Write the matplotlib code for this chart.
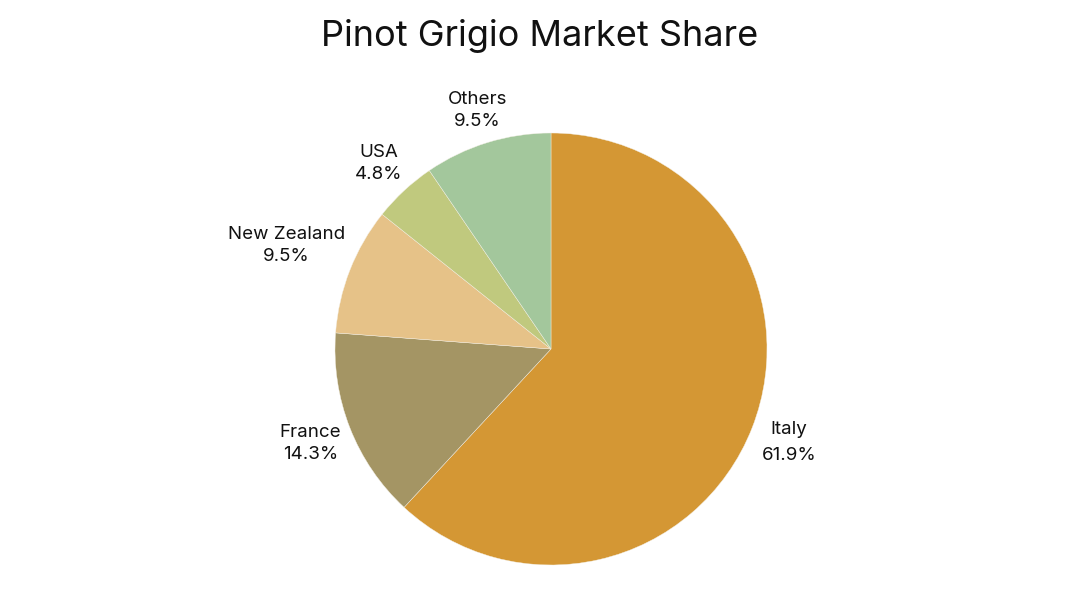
import numpy as np
import matplotlib.pyplot as plt

# Dữ liệu thị phần
countries = ["Italy", "France", "New Zealand", "USA", "Others"]
shares = [13, 3, 2, 1, 2]
colors = ["#D49734", "#A49564", "#E6C288", "#C0C97E", "#A3C79C"]

plt.rcParams['font.family'] = ['Inter', 'DejaVu Sans']

fig = plt.figure(figsize=(10.8, 6.07), dpi=100)
ax = fig.add_axes([0, 0, 1, 1])

wedges, _ = ax.pie(shares, colors=colors, startangle=90, counterclock=False,
                   wedgeprops=dict(edgecolor="#f4f0e6", linewidth=0.3))

# Khung toạ độ: 216 px cho mỗi đơn vị bán kính
px = 216
ax.set_aspect("auto")
ax.set_xlim(-551 / px, (1080 - 551) / px)
ax.set_ylim(-258 / px, 349 / px)
ax.axis("off")

total = sum(shares)
texts = []
for w, name, v in zip(wedges, countries, shares):
    ls = 1.7 if name == "Italy" else 1.4
    t = ax.text(0, 0, f"{name}\n{v / total * 100:.1f}%", ha="center", va="center",
                multialignment="center", fontsize=13.5, linespacing=ls, color="#111111")
    texts.append((w, t))

fig.canvas.draw()
r = fig.canvas.get_renderer()
for w, t in texts:
    ang = np.deg2rad((w.theta1 + w.theta2) / 2)
    c, s = np.cos(ang), np.sin(ang)
    bb = t.get_window_extent(r)
    hw, hh = bb.width / 2 / px, bb.height / 2 / px
    d = 1.03 + hw * abs(c) + hh * abs(s)
    t.set_position((d * c, d * s))

fig.text(0.5, 1 - 36 / 607, "Pinot Grigio Market Share", ha="center", va="center",
         fontsize=26, color="#111111")

fig.savefig("out.png", dpi=100)
